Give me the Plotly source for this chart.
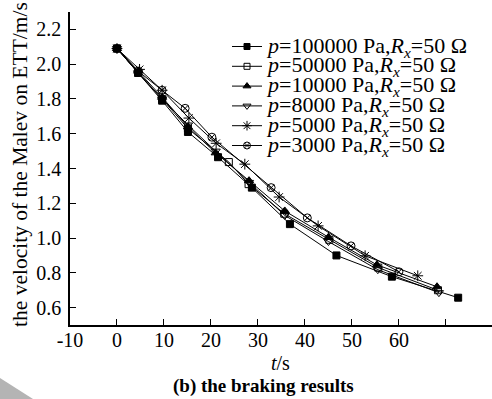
import plotly.graph_objects as go

# ---- data ----
t_100000 = [0, 4.5, 9.6, 15.1, 21.5, 28.7, 36.8, 46.7, 58.5, 72.6]
v_100000 = [2.09, 1.95, 1.79, 1.61, 1.465, 1.29, 1.08, 0.90, 0.778, 0.657]

t_50000 = [0, 4.5, 9.6, 15.1, 23.8, 28.0, 35.6, 45.2, 55.6, 68.3]
v_50000 = [2.09, 1.95, 1.80, 1.63, 1.437, 1.31, 1.14, 0.99, 0.83, 0.70]

t_10000 = [0, 4.5, 9.6, 15.1, 21.0, 28.1, 35.7, 45.0, 55.3, 68.1]
v_10000 = [2.09, 1.96, 1.81, 1.64, 1.49, 1.33, 1.156, 1.005, 0.846, 0.72]

t_8000 = [0, 4.5, 9.6, 15.1, 21.0, 28.1, 35.7, 45.0, 55.5, 68.5]
v_8000 = [2.09, 1.95, 1.80, 1.65, 1.50, 1.32, 1.13, 0.98, 0.818, 0.686]

t_5000 = [0, 4.8, 9.6, 15.3, 21.1, 27.2, 34.5, 42.8, 52.8, 64.0]
v_5000 = [2.09, 1.97, 1.85, 1.69, 1.545, 1.425, 1.236, 1.07, 0.898, 0.783]

t_3000 = [0, 4.5, 9.6, 14.5, 20.2, 32.8, 40.5, 49.8, 60.0]
v_3000 = [2.09, 1.96, 1.85, 1.746, 1.58, 1.29, 1.116, 0.955, 0.806]

labels = [
    "<i>p</i>=100000 Pa,<i>R</i><sub><i>x</i></sub>=50 Ω",
    "<i>p</i>=50000 Pa,<i>R</i><sub><i>x</i></sub>=50 Ω",
    "<i>p</i>=10000 Pa,<i>R</i><sub><i>x</i></sub>=50 Ω",
    "<i>p</i>=8000 Pa,<i>R</i><sub><i>x</i></sub>=50 Ω",
    "<i>p</i>=5000 Pa,<i>R</i><sub><i>x</i></sub>=50 Ω",
    "<i>p</i>=3000 Pa,<i>R</i><sub><i>x</i></sub>=50 Ω",
]
x_ticks = [-10, 0, 10, 20, 30, 40, 50, 60, 70]
x_ticktext = ["-10", "0", "10", "20", "30", "40", "50", "60", ""]
y_ticks = [0.6, 0.8, 1.0, 1.2, 1.4, 1.6, 1.8, 2.0, 2.2]
y_ticktext = ["0.6", "0.8", "1.0", "1.2", "1.4", "1.6", "1.8", "2.0", "2.2"]

series = [
    (t_100000, v_100000, "square", 7),
    (t_50000, v_50000, "square-open", 7),
    (t_10000, v_10000, "triangle-up", 8),
    (t_8000, v_8000, "triangle-down-open", 8),
    (t_5000, v_5000, "asterisk-open", 9),
    (t_3000, v_3000, "circle-x-open", 8),
]

FONT = "Liberation Serif"

L, R, T, B = 70, 0, 12, 74
W, H = 492, 399
PW, PH = W - L - R, H - T - B


def px(x):
    return (x - L) / PW


def py(y):
    return (H - B - y) / PH


fig = go.Figure()
for (tx, vy, sym, sz), lab in zip(series, labels):
    fig.add_trace(go.Scatter(
        x=tx, y=vy, mode="lines+markers", name=lab,
        line=dict(color="black", width=1),
        marker=dict(symbol=sym, size=sz, color="black",
                    line=dict(color="black", width=1)),
        showlegend=False,
    ))

# manual legend (samples drawn on a helper pixel-space axis)
leg_y0 = 46.5
leg_dy = 19.8
for i, ((tx, vy, sym, sz), lab) in enumerate(zip(series, labels)):
    yy = leg_y0 + i * leg_dy
    fig.add_trace(go.Scatter(
        x=[232, 262], y=[yy, yy], mode="lines", xaxis="x2", yaxis="y2",
        line=dict(color="black", width=1), showlegend=False, hoverinfo="skip"))
    fig.add_trace(go.Scatter(
        x=[247], y=[yy], mode="markers", xaxis="x2", yaxis="y2",
        marker=dict(symbol=sym, size=sz - 1, color="black",
                    line=dict(color="black", width=1)),
        showlegend=False, hoverinfo="skip"))
    fig.add_annotation(xref="paper", yref="paper", x=px(264), y=py(yy), text=lab,
                       showarrow=False, xanchor="left", yanchor="middle",
                       font=dict(family=FONT, size=22, color="black"))

fig.update_layout(
    width=W, height=H,
    margin=dict(l=L, r=R, t=T, b=B),
    paper_bgcolor="white", plot_bgcolor="white",
    font=dict(family=FONT, size=20, color="black"),
    xaxis=dict(range=[-10, 79.8], tickvals=x_ticks, ticktext=x_ticktext,
               ticks="inside", ticklen=6, tickwidth=1, tickcolor="black",
               showline=True, linecolor="black", linewidth=1.5,
               showgrid=False, zeroline=False, mirror=False,
               tickfont=dict(family=FONT, size=20), ticklabelstandoff=-4),
    yaxis=dict(range=[0.5, 2.3], tickvals=y_ticks, ticktext=y_ticktext,
               ticks="inside", ticklen=6, tickwidth=1, tickcolor="black",
               showline=True, linecolor="black", linewidth=1.5,
               showgrid=False, zeroline=False, mirror=False,
               tickfont=dict(family=FONT, size=20), ticklabelstandoff=3),
    xaxis2=dict(range=[L, W], overlaying="x", visible=False, fixedrange=True),
    yaxis2=dict(range=[H - B, T], overlaying="y", visible=False, fixedrange=True),
    showlegend=False,
)

# axis titles & caption
fig.add_annotation(xref="paper", yref="paper", x=px(20), y=py(165),
                   text="the velocity of the Malev on ETT/m/s",
                   textangle=-90, showarrow=False, xanchor="center", yanchor="middle",
                   font=dict(family=FONT, size=21.5, color="black"))
fig.add_annotation(xref="paper", yref="paper", x=px(280), y=py(363), text="<i>t</i>/s",
                   showarrow=False, xanchor="center", yanchor="middle",
                   font=dict(family=FONT, size=20, color="black"))
fig.add_annotation(xref="paper", yref="paper", x=px(263), y=py(386),
                   text="<b>(b) the braking results</b>",
                   showarrow=False, xanchor="center", yanchor="middle",
                   font=dict(family=FONT, size=19, color="black"))

# gray corner decoration
fig.add_shape(type="path", xref="paper", yref="paper",
              path=f"M {px(0)} {py(378)} L {px(33)} {py(399)} L {px(0)} {py(399)} Z",
              fillcolor="#b4b4b4", line=dict(width=0), layer="below")

fig.write_html("out.html")
